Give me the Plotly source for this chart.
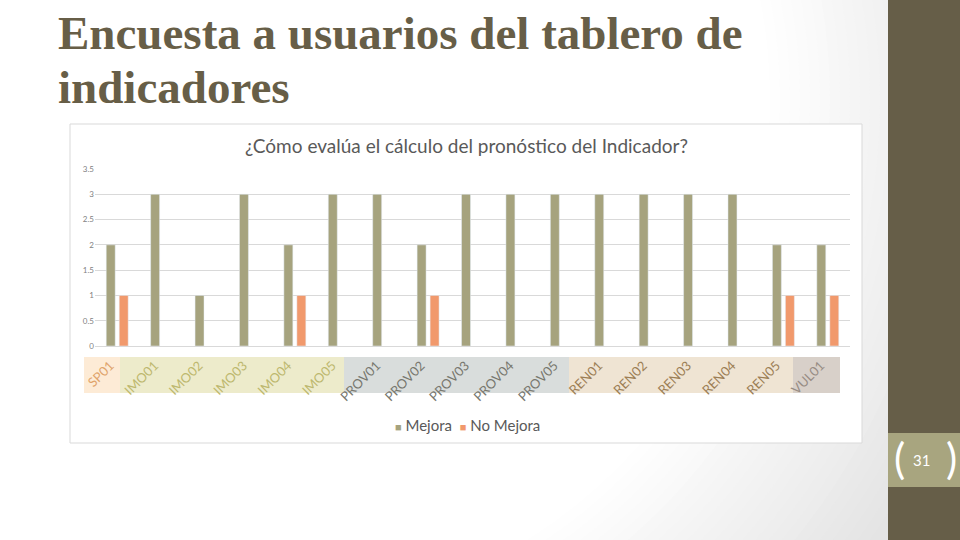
import plotly.graph_objects as go

# ---------------- data ----------------
categories = ["SP01", "IMO01", "IMO02", "IMO03", "IMO04", "IMO05",
              "PROV01", "PROV02", "PROV03", "PROV04", "PROV05",
              "REN01", "REN02", "REN03", "REN04", "REN05", "VUL01"]
mejora = [2, 3, 1, 3, 2, 3, 3, 2, 3, 3, 3, 3, 3, 3, 3, 2, 2]
no_mejora = [1, None, None, None, 1, None, None, 1, None, None, None,
             None, None, None, None, 1, 1]
series_names = ["Mejora", "No Mejora"]
y_ticks = [0, 0.5, 1, 1.5, 2, 2.5, 3, 3.5]

slide_title_lines = ["Encuesta a usuarios del tablero de", "indicadores"]
chart_title = "¿Cómo evalúa el cálculo del pronóstico del Indicador?"
page_number = "31"

# label groups: (prefix, text colour, band colour)
groups = [("SP", "#E0A36B", "#FDEBD6"),
          ("IMO", "#BDB86E", "#EDEBCB"),
          ("PROV", "#77776E", "#D9DDDC"),
          ("REN", "#9C7E55", "#EFE4D3"),
          ("VUL", "#978C84", "#D8D0C9")]

C_MEJ = "#A6A37E"
C_NO = "#F1996C"

# ---------------- layout helpers (page pixel -> paper) ----------------
W, H = 960, 540
L, R, T, B = 95, 850, 169, 346   # plot area in page pixels


def px(x):
    return (x - L) / (R - L)


def py(y):
    return (B - y) / (B - T)


def grp(cat):
    for g in groups:
        if cat.startswith(g[0]):
            return g
    return groups[0]


ticktext = [f"<span style='color:{grp(c)[1]}'>{c}</span>" for c in categories]

fig = go.Figure()
fig.add_trace(go.Bar(x=categories, y=mejora, name=series_names[0],
                     marker_color=C_MEJ, showlegend=False))
fig.add_trace(go.Bar(x=categories, y=no_mejora, name=series_names[1],
                     marker_color=C_NO, showlegend=False))

shapes = []
# background gradient (radial-ish)
cx, cy = 250, 100
n = 25
for k in range(n + 1):
    r = 770 - k * (770 - 520) / n
    v = int(round(0xE4 + (0xFF - 0xE4) * k / n))
    col = f"#{v:02X}{v:02X}{v:02X}"
    shapes.append(dict(type="circle", xref="paper", yref="paper", layer="below",
                       x0=px(cx - r), x1=px(cx + r), y0=py(cy + r), y1=py(cy - r),
                       fillcolor=col, line=dict(width=0)))
# right panel
shapes.append(dict(type="rect", xref="paper", yref="paper", layer="below",
                   x0=px(888), x1=px(965), y0=py(545), y1=py(-5),
                   fillcolor="#665E48", line=dict(width=0)))
shapes.append(dict(type="rect", xref="paper", yref="paper", layer="below",
                   x0=px(888), x1=px(965), y0=py(487), y1=py(433),
                   fillcolor="#A8A57F", line=dict(width=0)))
# chart box
shapes.append(dict(type="rect", xref="paper", yref="paper", layer="below",
                   x0=px(70), x1=px(862), y0=py(443), y1=py(124),
                   fillcolor="#FFFFFF", line=dict(color="#D9D9D9", width=1)))
# label bands
band_edges = [84, 120, 344, 569, 793, 840]
for i, g in enumerate(groups):
    shapes.append(dict(type="rect", xref="paper", yref="paper", layer="below",
                       x0=px(band_edges[i]), x1=px(band_edges[i + 1]),
                       y0=py(393), y1=py(357),
                       fillcolor=g[2], line=dict(width=0)))

annotations = []
for i, line in enumerate(slide_title_lines):
    annotations.append(dict(text=line, xref="paper", yref="paper",
                            x=px(56), y=py(33 + 54 * i), xanchor="left", yanchor="middle",
                            showarrow=False,
                            font=dict(family="Liberation Serif", size=47, color="#675E47",
                                      weight="bold")))
annotations.append(dict(text=chart_title, xref="paper", yref="paper",
                        x=px(466), y=py(145), xanchor="center", yanchor="middle",
                        showarrow=False,
                        font=dict(family="Lato", size=19, color="#595959")))
# legend built from the series names
legend_text = "&nbsp;&nbsp;".join(
    f"<span style='color:{c};font-size:11px'>■</span> {nm}"
    for nm, c in zip(series_names, [C_MEJ, C_NO]))
annotations.append(dict(text=legend_text, xref="paper", yref="paper",
                        x=px(467), y=py(425), xanchor="center", yanchor="middle",
                        showarrow=False,
                        font=dict(family="Lato", size=15, color="#595959")))
annotations.append(dict(text="(", xref="paper", yref="paper", x=px(900), y=py(458),
                        xanchor="center", yanchor="middle", showarrow=False,
                        font=dict(family="Lato", size=42, color="#FFFFFF")))
annotations.append(dict(text=")", xref="paper", yref="paper", x=px(951), y=py(458),
                        xanchor="center", yanchor="middle", showarrow=False,
                        font=dict(family="Lato", size=42, color="#FFFFFF")))
annotations.append(dict(text=page_number, xref="paper", yref="paper", x=px(922), y=py(460),
                        xanchor="center", yanchor="middle", showarrow=False,
                        font=dict(family="Lato", size=15, color="#FFFFFF")))

fig.update_layout(
    width=W, height=H, autosize=False,
    margin=dict(l=L, r=W - R, t=T, b=H - B, pad=0),
    paper_bgcolor="#E4E4E4", plot_bgcolor="rgba(0,0,0,0)",
    barmode="group", bargap=0.415, bargroupgap=0.31,
    shapes=shapes, annotations=annotations,
    showlegend=False,
    font=dict(family="Lato"),
)
fig.update_xaxes(tickvals=categories, ticktext=ticktext, tickangle=-45,
                 tickfont=dict(family="Lato", size=13), showgrid=False,
                 showline=True, linecolor="#D9D9D9", linewidth=1, ticks="",
                 ticklabelstandoff=6, ticklabelshift=-7)
fig.update_yaxes(range=[0, 3.5], tickvals=y_ticks, tickfont=dict(family="Lato", size=8, color="#7F7F7F"),
                 gridcolor="#D9D9D9", gridwidth=1, zeroline=False, showline=False,
                 ticks="", fixedrange=True)

fig.write_html("out.html", config={"displayModeBar": False},
               post_script="document.body.style.margin='0';")
